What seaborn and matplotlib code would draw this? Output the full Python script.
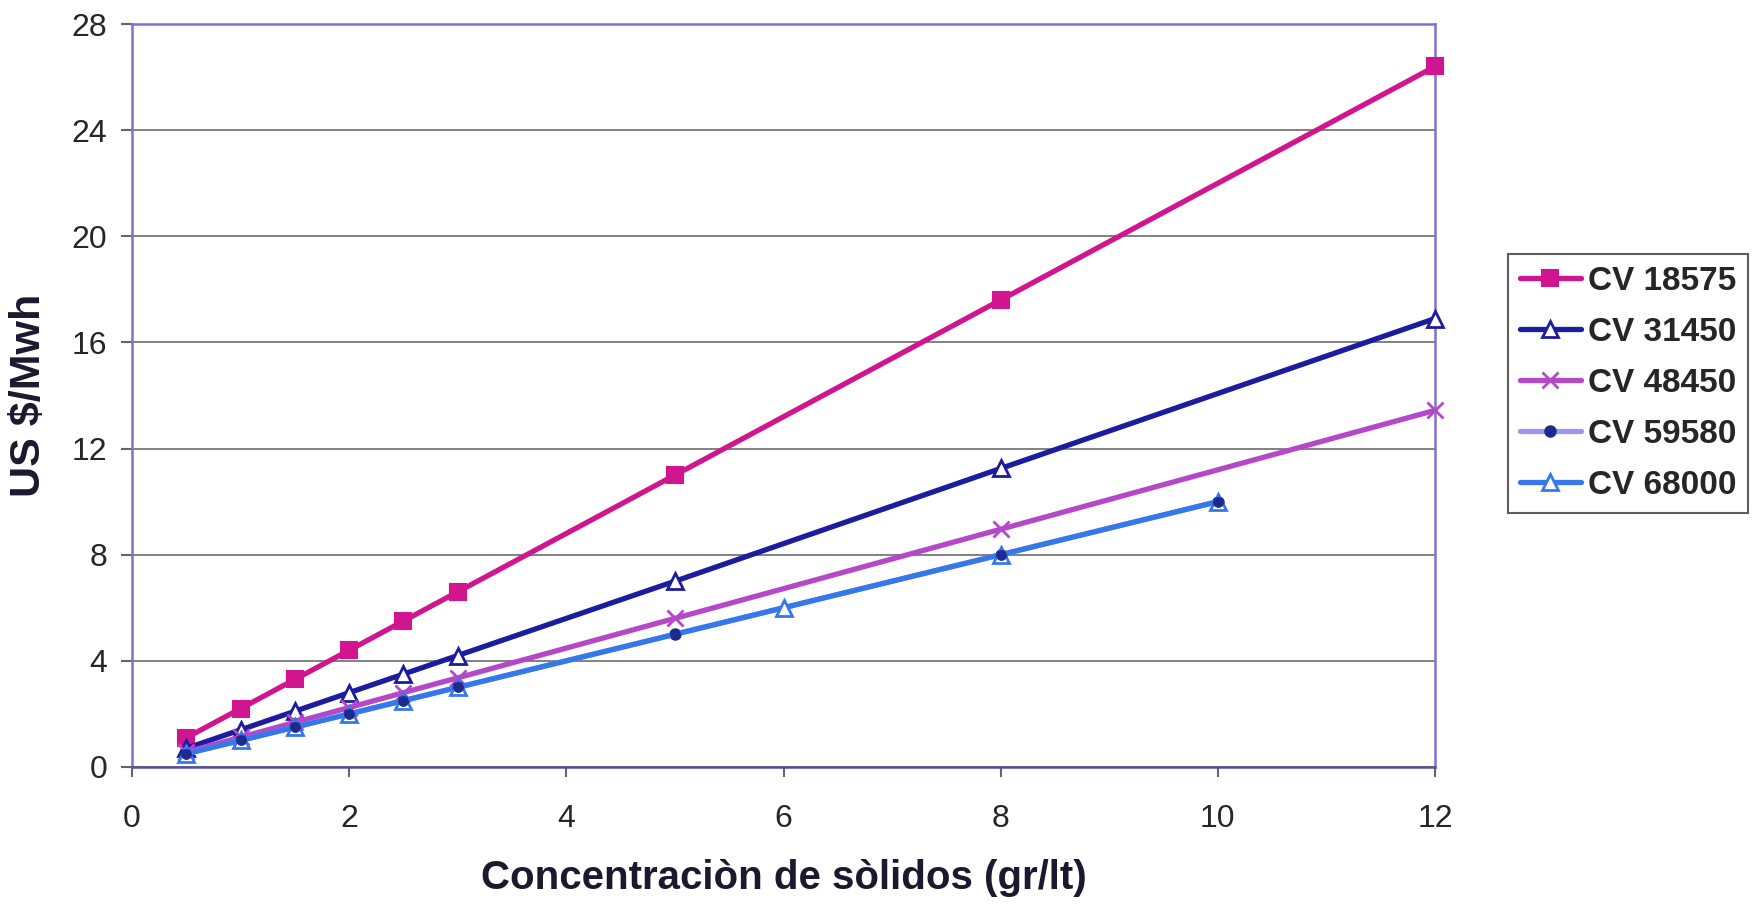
import matplotlib
matplotlib.use("Agg")
import matplotlib.pyplot as plt
import seaborn as sns
import pandas as pd

# Solids concentration (gr/lt) and cost (US $/Mwh) per CV series
x_main = [0.5, 1, 1.5, 2, 2.5, 3, 5, 8, 12]
cv18575 = [1.1, 2.2, 3.3, 4.4, 5.5, 6.6, 11.0, 17.6, 26.4]
cv31450 = [0.7, 1.4, 2.1, 2.8, 3.5, 4.2, 7.0, 11.25, 16.9]
cv48450 = [0.56, 1.12, 1.68, 2.24, 2.8, 3.36, 5.6, 8.96, 13.44]
x_59580 = [0.5, 1, 1.5, 2, 2.5, 3, 5, 8, 10]
cv59580 = [0.5, 1.0, 1.5, 2.0, 2.5, 3.0, 5.0, 8.0, 10.0]
x_68000 = [0.5, 1, 1.5, 2, 2.5, 3, 6, 8, 10]
cv68000 = [0.5, 1.0, 1.5, 2.0, 2.5, 3.0, 6.0, 8.0, 10.0]

labels = ["CV 18575", "CV 31450", "CV 48450", "CV 59580", "CV 68000"]
xs = [x_main, x_main, x_main, x_59580, x_68000]
ys = [cv18575, cv31450, cv48450, cv59580, cv68000]

styles = [
    dict(color="#D0158F", marker="s", markersize=11, mfc="#D0158F", mec="#D0158F", mew=1.5),
    dict(color="#1C1C9E", marker="^", markersize=11, mfc="white", mec="#1C1C9E", mew=2),
    dict(color="#B548C9", marker="x", markersize=11, mfc="#B548C9", mec="#B548C9", mew=2),
    dict(color="#9C98F2", marker="o", markersize=8, mfc="#1E2B8E", mec="#1E2B8E", mew=1),
    dict(color="#3478EC", marker="^", markersize=11, mfc="white", mec="#3478EC", mew=2),
]

sns.set_theme(style="white")
plt.rcParams["font.family"] = ["Liberation Sans", "DejaVu Sans"]

fig = plt.figure(figsize=(17.53, 9.07), dpi=100)
ax = fig.add_axes([0.0753, 0.1544, 0.7433, 0.8191])

for xv, yv, lab, st in zip(xs, ys, labels, styles):
    df = pd.DataFrame({"x": xv, "y": yv})
    sns.lineplot(data=df, x="x", y="y", ax=ax, label=lab, linewidth=3.8,
                 color=st["color"], marker=st["marker"], markersize=st["markersize"],
                 markerfacecolor=st["mfc"], markeredgecolor=st["mec"],
                 markeredgewidth=st["mew"], clip_on=False, zorder=3)

# CV 59580 dots sit inside the CV 68000 triangles where the two series coincide
df_dots = pd.DataFrame({"x": x_59580, "y": cv59580})
sns.lineplot(data=df_dots, x="x", y="y", ax=ax, linestyle="none", marker="o",
             markersize=7, markerfacecolor="#1E2B8E", markeredgecolor="#1E2B8E",
             clip_on=False, zorder=4, legend=False)

ax.set_xlim(0, 12)
ax.set_ylim(0, 28)
ax.set_xticks(range(0, 13, 2))
ax.set_yticks(range(0, 29, 4))
ax.grid(axis="y", color="#777777", linewidth=1.3)
ax.set_axisbelow(True)

for side in ["left", "top", "right"]:
    ax.spines[side].set_color("#7F6FD8")
    ax.spines[side].set_linewidth(1.8)
ax.spines["bottom"].set_color("#55509E")
ax.spines["bottom"].set_linewidth(1.8)

ax.tick_params(axis="y", direction="out", length=8, width=1.5, color="#666666",
               labelsize=23, pad=10, left=True)
ax.tick_params(axis="x", direction="out", length=7, width=1.5, color="#666666",
               labelsize=23, pad=20, bottom=True)

ax.set_xlabel("Concentraciòn de sòlidos (gr/lt)", fontsize=29, fontweight="bold",
              color="#1A1A2E", labelpad=18)
ax.set_ylabel("US $/Mwh", fontsize=31, fontweight="bold", color="#1A1A2E")
ax.yaxis.set_label_coords(-0.064, 0.5)

leg = ax.legend(loc="upper left", bbox_to_anchor=(1.056, 0.69), fontsize=24,
                frameon=True, fancybox=False, edgecolor="#333333",
                handlelength=1.85, handletextpad=0.2, borderpad=0.35, labelspacing=0.6,
                borderaxespad=0)
leg.get_frame().set_linewidth(1.5)
for t in leg.get_texts():
    t.set_fontweight("bold")

fig.savefig("out.png", dpi=100, facecolor="white")
